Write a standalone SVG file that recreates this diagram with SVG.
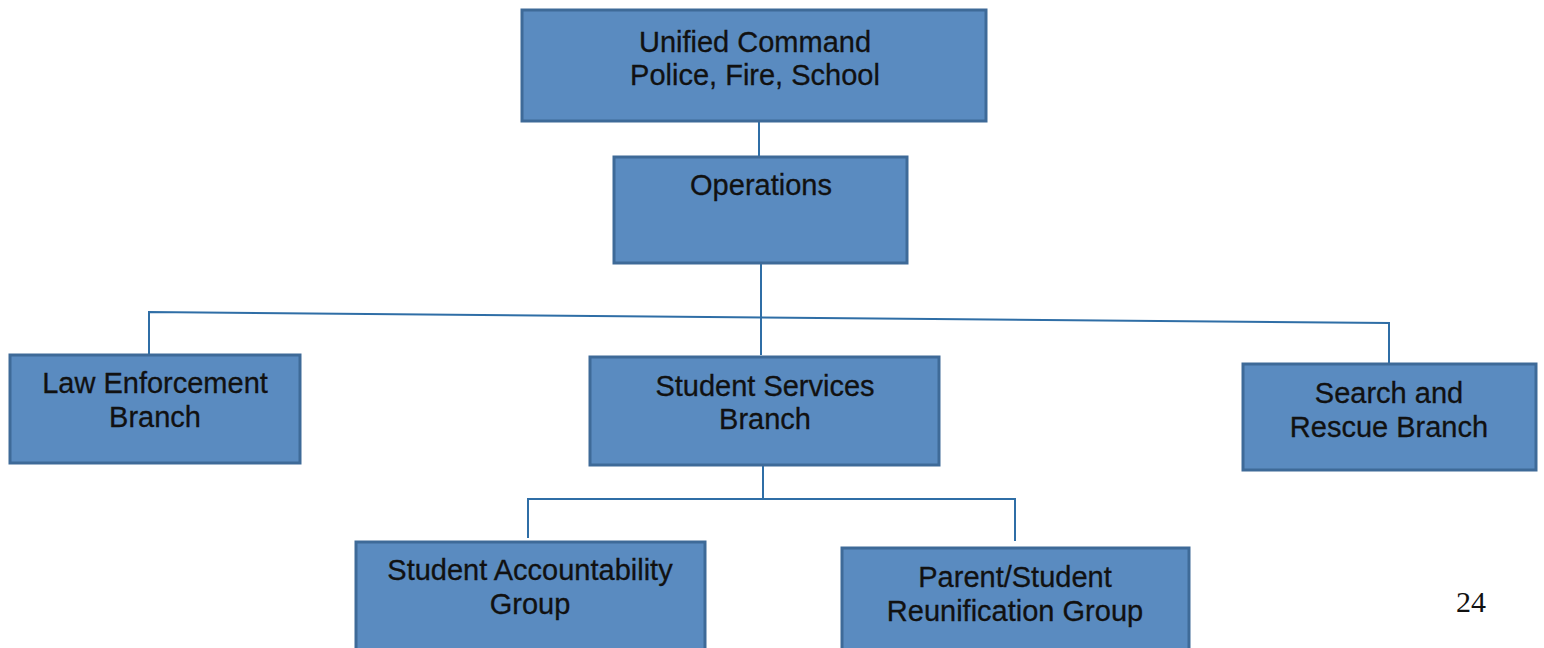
<svg xmlns="http://www.w3.org/2000/svg" width="1544" height="648" viewBox="0 0 1544 648">
<style>
.box{fill:#5a8bc0;stroke:#3e6a98;stroke-width:3}
.t{font-family:"Liberation Sans",Arial,sans-serif;font-size:29px;fill:#111;text-anchor:middle;stroke:#111;stroke-width:0.3}
.c{fill:none;stroke:#2f6ea6;stroke-width:2}
</style>
<rect width="1544" height="648" fill="#fff"/>
<g id="connectors">
<path class="c" d="M759 121V156"/>
<path class="c" d="M761 264V355"/>
<path class="c" d="M149 355V312L1389 323V364"/>
<path class="c" d="M763 466V499"/>
<path class="c" d="M528 538V499H1015V541"/>
</g>
<g id="unified"><rect class="box" x="522" y="10" width="464" height="111"/><text class="t" x="755" y="52">Unified Command</text><text class="t" x="755" y="85">Police, Fire, School</text></g>
<g id="operations"><rect class="box" x="614" y="157" width="293" height="106"/><text class="t" x="761" y="195">Operations</text></g>
<g id="law"><rect class="box" x="10" y="355" width="290" height="108"/><text class="t" x="155" y="393">Law Enforcement</text><text class="t" x="155" y="427">Branch</text></g>
<g id="student-services"><rect class="box" x="590" y="357" width="349" height="108"/><text class="t" x="765" y="396">Student Services</text><text class="t" x="765" y="429">Branch</text></g>
<g id="search"><rect class="box" x="1243" y="364" width="293" height="106"/><text class="t" x="1389" y="403">Search and</text><text class="t" x="1389" y="437">Rescue Branch</text></g>
<g id="accountability"><rect class="box" x="356" y="542" width="349" height="110"/><text class="t" x="530" y="580">Student Accountability</text><text class="t" x="530" y="614">Group</text></g>
<g id="reunification"><rect class="box" x="842" y="548" width="347" height="104"/><text class="t" x="1015" y="587">Parent/Student</text><text class="t" x="1015" y="621">Reunification Group</text></g>
<text x="1471" y="612" style="font-family:'Liberation Serif','Times New Roman',serif;font-size:30px;fill:#111;text-anchor:middle">24</text>
</svg>
